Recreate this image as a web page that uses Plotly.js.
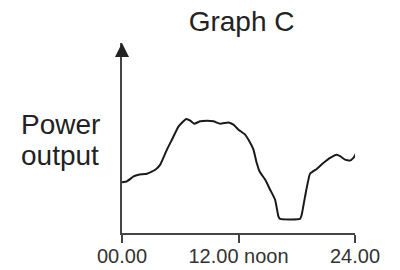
<!DOCTYPE html>
<html><head><meta charset="utf-8">
<script src="https://cdn.plot.ly/plotly-3.0.1.min.js"></script>
<style>html,body{margin:0;padding:0;background:#fff}#g{width:400px;height:270px}</style>
</head><body><div id="g"></div>
<script>
const hours = [0,0.51,1.2,1.71,2.57,3.43,3.94,4.63,5.14,5.83,6.62,7.03,7.44,8.06,8.74,9.43,10.11,10.97,11.48,12.0,12.68,13.03,13.54,13.88,14.16,14.74,15.26,15.77,16.11,16.28,18.34,18.51,18.86,19.37,20.06,20.74,21.43,22.11,22.46,22.97,23.48,23.83,24.17];
const power = [26.7,27.2,29.8,30.7,31.2,33.3,36.0,43.9,49.1,56.1,60.0,59.1,57.5,58.8,59.1,58.8,57.5,58.2,57.0,54.4,51.8,49.1,43.9,36.8,32.5,28.1,22.8,17.5,8.8,7.4,7.4,9.6,19.3,31.2,33.7,36.8,39.5,41.2,40.4,38.6,38.1,39.5,42.5];
const tickVals = [0,12,24];
const tickText = ["00.00","12.00 noon","24.00"];
const titleText = "Graph C";
const yLabelLines = ["Power","output"];

const font = "Liberation Sans, Arial, sans-serif";
const data = [{x:hours,y:power,mode:"lines",line:{color:"#1a1a1a",width:2,shape:"spline",smoothing:0.4},hoverinfo:"skip"}];
const layout = {
  width:400,height:270,
  margin:{l:122,r:45,t:43,b:37},
  paper_bgcolor:"#fff",plot_bgcolor:"#fff",
  showlegend:false,
  title:{text:titleText,font:{family:font,size:28,color:"#222"},x:0.604,xanchor:"center",y:0.885,yanchor:"bottom"},
  xaxis:{range:[0,24],tickvals:tickVals,ticktext:tickText,showgrid:false,zeroline:false,
    showline:true,linecolor:"#444",linewidth:2,ticks:"outside",ticklen:8,tickwidth:2,tickcolor:"#444",
    ticklabelstandoff:-4,
    tickfont:{family:font,size:20,color:"#333"},fixedrange:true},
  yaxis:{range:[0,100],showgrid:false,zeroline:false,showline:true,linecolor:"#444",linewidth:2,
    showticklabels:false,ticks:"",fixedrange:true},
  annotations:[
    {x:0,y:100,xref:"x",yref:"y",ax:0,ay:92,axref:"x",ayref:"y",text:"",showarrow:true,arrowhead:2,arrowsize:1.4,arrowwidth:2,arrowcolor:"#222",standoff:0},
    {x:0,y:0,xref:"paper",yref:"paper",text:yLabelLines[0],showarrow:false,font:{family:font,size:28,color:"#222"},yanchor:"bottom",xanchor:"center"},
    {x:0,y:0,xref:"paper",yref:"paper",text:yLabelLines[1],showarrow:false,font:{family:font,size:28,color:"#222"},yanchor:"bottom",xanchor:"center"}
  ]
};
// convert pixel positions for the y label to paper coords
const pw = 400-122-45, ph = 270-43-37;
layout.annotations[1].x = (60-122)/pw; layout.annotations[1].y = (270-37-142)/ph;
layout.annotations[2].x = (60-122)/pw; layout.annotations[2].y = (270-37-173)/ph;
Plotly.newPlot("g",data,layout,{displayModeBar:false,staticPlot:true});
</script></body></html>
